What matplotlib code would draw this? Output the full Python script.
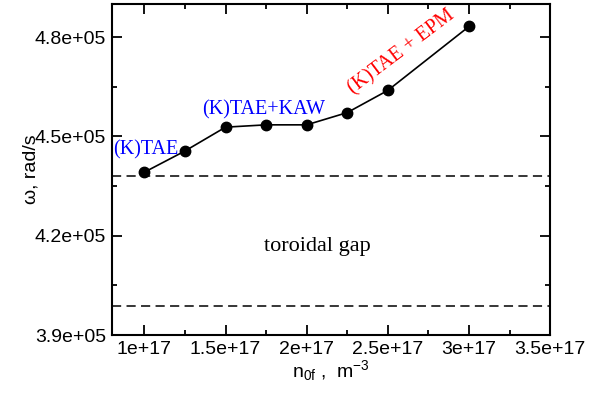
import matplotlib
matplotlib.use("Agg")
import matplotlib.pyplot as plt
from matplotlib.ticker import MultipleLocator

plt.rcParams['font.family'] = ['Liberation Sans', 'DejaVu Sans']
plt.rcParams['mathtext.fontset'] = 'custom'
plt.rcParams['mathtext.rm'] = 'Liberation Sans'
plt.rcParams['mathtext.it'] = 'Liberation Sans:italic'

# fast particle density vs mode frequency
n0f = [1.0e17, 1.25e17, 1.5e17, 1.75e17, 2.0e17, 2.25e17, 2.5e17, 3.0e17]
omega = [4.392e5, 4.456e5, 4.528e5, 4.535e5, 4.535e5, 4.572e5, 4.639e5, 4.832e5]

# toroidal gap edges
gap_top = 4.380e5
gap_bottom = 3.987e5

xticks = [1e17, 1.5e17, 2e17, 2.5e17, 3e17, 3.5e17]
xtick_labels = ["1e+17", "1.5e+17", "2e+17", "2.5e+17", "3e+17", "3.5e+17"]
yticks = [3.9e5, 4.2e5, 4.5e5, 4.8e5]
ytick_labels = ["3.9e+05", "4.2e+05", "4.5e+05", "4.8e+05"]

fig = plt.figure(figsize=(5.89, 3.98), dpi=100)
ax = fig.add_axes([0.190, 0.158, 0.744, 0.832])

ax.axhline(gap_top, color='black', lw=1.1, ls=(0, (6, 3.5)))
ax.axhline(gap_bottom, color='black', lw=1.1, ls=(0, (6, 3.5)))
ax.plot(n0f, omega, color='black', lw=1.2, marker='o', ms=7.5)

ax.set_xlim(0.8e17, 3.5e17)
ax.set_ylim(3.9e5, 4.9e5)

ax.set_xticks(xticks)
ax.set_xticklabels(xtick_labels)
ax.set_yticks(yticks)
ax.set_yticklabels(ytick_labels)
ax.xaxis.set_minor_locator(MultipleLocator(0.25e17))
ax.yaxis.set_minor_locator(MultipleLocator(0.15e5))

ax.tick_params(which='both', direction='in', top=True, right=True,
               labelsize=14, width=1.3)
ax.tick_params(which='major', length=7, pad=4)
ax.tick_params(which='minor', length=3.5)
for s in ax.spines.values():
    s.set_linewidth(1.5)

ax.set_xlabel(r"n$_{\mathrm{0f}}$ ,  m$^{\mathrm{-3}}$", fontsize=14, labelpad=0)
ax.set_ylabel("ω, rad/s", fontsize=14, labelpad=-3)

serif = ['Liberation Serif', 'DejaVu Serif']
ax.text(0.805e17, 4.446e5, "(K)TAE", color='blue', fontsize=14.5,
        family=serif, ha='left', va='baseline')
ax.text(1.356e17, 4.5656e5, "(K)TAE+KAW", color='blue', fontsize=14.5,
        family=serif, ha='left', va='baseline')
ax.text(2.288e17, 4.627e5, "(K)TAE + EPM", color='red', fontsize=14.5,
        family=serif, ha='left', va='baseline', rotation=37,
        rotation_mode='anchor')
ax.text(1.734e17, 4.153e5, "toroidal gap", color='black', fontsize=16,
        family=serif, ha='left', va='baseline')

fig.savefig("out.png", dpi=100)
